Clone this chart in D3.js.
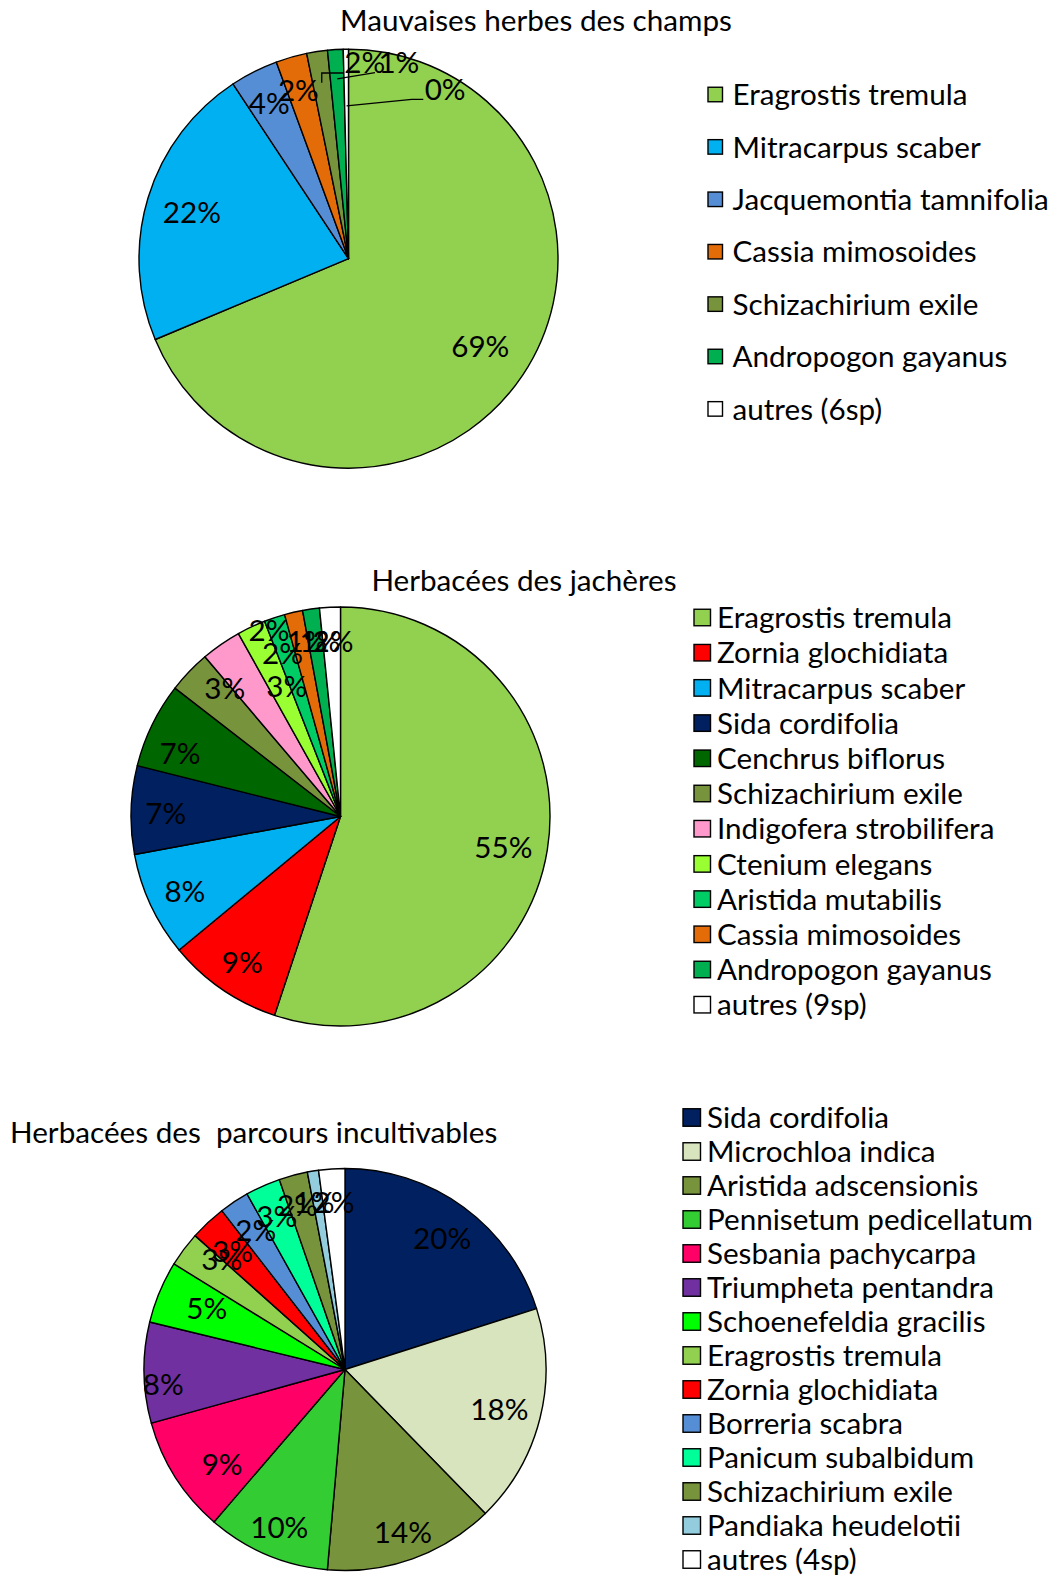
<!DOCTYPE html>
<html>
<head>
<meta charset="utf-8">
<script src="https://cdn.jsdelivr.net/npm/d3@7"></script>
<style>
    body { margin: 0; background: #fff; }
    text { font-family: Lato, "Open Sans", sans-serif; fill: #000; white-space: pre; }
</style>
</head>
<body>
<div id="chart-area"></div>
<script>
// ---- data (percent of species cover) ----
const champsTitle = "Mauvaises herbes des champs";
const champsNames = ["Eragrostis tremula", "Mitracarpus scaber", "Jacquemontia tamnifolia",
    "Cassia mimosoides", "Schizachirium exile", "Andropogon gayanus", "autres (6sp)"];
const champsValues = [68.7, 22.0, 3.7, 2.4, 1.6, 1.2, 0.4];
const champsColors = ["#92D050", "#00B0F0", "#558ED5", "#E36C09", "#77933C", "#00B050", "#FFFFFF"];

const jacheresTitle = "Herbacées des jachères";
const jacheresNames = ["Eragrostis tremula", "Zornia glochidiata", "Mitracarpus scaber", "Sida cordifolia",
    "Cenchrus biflorus", "Schizachirium exile", "Indigofera strobilifera", "Ctenium elegans",
    "Aristida mutabilis", "Cassia mimosoides", "Andropogon gayanus", "autres (9sp)"];
const jacheresValues = [55.1, 8.9, 8.1, 6.8, 6.6, 3.3, 3.1, 2.2, 1.6, 1.4, 1.3, 1.6];
const jacheresColors = ["#92D050", "#FF0000", "#00B0F0", "#002060", "#006600", "#77933C",
    "#FF99CC", "#99FF33", "#00CC66", "#E36C09", "#00B050", "#FFFFFF"];

const parcoursTitle = "Herbacées des  parcours incultivables";
const parcoursNames = ["Sida cordifolia", "Microchloa indica", "Aristida adscensionis", "Pennisetum pedicellatum",
    "Sesbania pachycarpa", "Triumpheta pentandra", "Schoenefeldia gracilis", "Eragrostis tremula",
    "Zornia glochidiata", "Borreria scabra", "Panicum subalbidum", "Schizachirium exile",
    "Pandiaka heudelotii", "autres (4sp)"];
const parcoursValues = [20.1, 17.6, 13.7, 9.9, 9.4, 8.1, 5.0, 2.8, 2.9, 2.4, 2.8, 2.3, 0.9, 2.1];
const parcoursColors = ["#002060", "#D7E4BD", "#77933C", "#33CC33", "#FF0066", "#7030A0", "#00FF00",
    "#92D050", "#FF0000", "#558ED5", "#00FF99", "#77933C", "#93CDDD", "#FFFFFF"];

class PieVis {
    constructor(_svg, _title, _names, _values, _colors, _layout) {
        this.svg = _svg;
        this.title = _title;
        this.data = _names.map((n, i) => ({name: n, value: _values[i], color: _colors[i]}));
        this.layout = _layout;
        this.initVis();
    }

    initVis() {
        let vis = this;
        let L = vis.layout;

        vis.pie = d3.pie().sort(null).value(d => d.value);
        vis.arc = d3.arc().innerRadius(0).outerRadius(L.r);
        vis.pct = d3.format(".0%");
        vis.total = d3.sum(vis.data, d => d.value);

        // title
        vis.svg.append("text")
            .attr("x", L.title[0])
            .attr("y", L.title[1])
            .attr("text-anchor", L.titleAnchor)
            .style("font-size", L.titleSize + "px")
            .text(vis.title);

        vis.g = vis.svg.append("g")
            .attr("transform", "translate(" + L.cx + "," + L.cy + ")");

        vis.arcs = vis.pie(vis.data);

        vis.g.selectAll("path.slice")
            .data(vis.arcs)
            .enter().append("path")
            .attr("class", "slice")
            .attr("d", vis.arc)
            .attr("fill", d => d.data.color)
            .attr("stroke", "#000")
            .attr("stroke-width", 1.4)
            .attr("stroke-linejoin", "round");

        // leader lines for the tiny slices
        let pointAt = (d, f) => {
            let a = (d.startAngle + d.endAngle) / 2;
            return [Math.sin(a) * L.r * f, -Math.cos(a) * L.r * f];
        };
        (L.leaders || []).forEach(ld => {
            let end = pointAt(vis.arcs[ld.i], ld.rf);
            let pts = [ld.start].concat(ld.bend ? [ld.bend] : [[end[0], ld.start[1]]]).concat([end]);
            vis.g.append("path")
                .attr("d", d3.line()(pts))
                .attr("fill", "none")
                .attr("stroke", "#000")
                .attr("stroke-width", 1.3);
        });

        // percentage labels (Excel "best fit" spots)
        vis.g.selectAll("text.lbl")
            .data(vis.arcs)
            .enter().append("text")
            .attr("class", "lbl")
            .attr("x", (d, i) => L.labels[i] ? L.labels[i][0] : pointAt(d, 0.8)[0])
            .attr("y", (d, i) => L.labels[i] ? L.labels[i][1] : pointAt(d, 0.8)[1])
            .attr("dy", "0.36em")
            .attr("text-anchor", "middle")
            .style("font-size", L.fontSize + "px")
            .text(d => vis.pct(d.data.value / vis.total));

        // legend
        let leg = vis.svg.append("g").selectAll("g")
            .data(vis.data)
            .enter().append("g")
            .attr("transform", (d, i) => "translate(0," + (L.legY0 + i * L.legStep) + ")");

        leg.append("rect")
            .attr("x", L.legX)
            .attr("y", -L.legBox / 2)
            .attr("width", L.legBox)
            .attr("height", L.legBox)
            .attr("fill", d => d.color)
            .attr("stroke", "#000")
            .attr("stroke-width", 1.4);

        leg.append("text")
            .attr("x", L.legTextX)
            .attr("dy", "0.36em")
            .style("font-size", L.fontSize + "px")
            .text(d => d.name);
    }
}

let svg = d3.select("#chart-area").append("svg")
    .attr("width", 1057)
    .attr("height", 1575);

// fit the fallback font to the widths in the original (Calibri)
function fitSize(str, target) {
    let t = svg.append("text").style("font-size", "100px").text(str);
    let w = t.node().getComputedTextLength();
    t.remove();
    return 100 * target / w;
}
const titleSize = fitSize("Mauvaises herbes des champs", 392);
const bodySize = fitSize("Eragrostis tremula", 235);

new PieVis(svg, champsTitle, champsNames, champsValues, champsColors, {
    cx: 348.5, cy: 258.7, r: 209.5,
    title: [536, 31], titleAnchor: "middle", titleSize: titleSize, fontSize: bodySize,
    legX: 708, legBox: 14.5, legY0: 94.5, legStep: 52.4, legTextX: 732.5,
    labels: [[131.8, 88], [-156.6, -46.7], [-79.2, -155.2], [-50.1, -168.3],
        [16.2, -196.4], [50.4, -196.4], [96.6, -169.3]],
    leaders: [
        {i: 4, start: [-5.5, -185.7], rf: 0.85},
        {i: 5, start: [26.5, -186], bend: [26.5, -186], rf: 0.86},
        {i: 6, start: [74.8, -159.4], bend: [63.2, -159.4], rf: 0.73}
    ]
});

new PieVis(svg, jacheresTitle, jacheresNames, jacheresValues, jacheresColors, {
    cx: 340.5, cy: 816.5, r: 209.5,
    title: [524, 590.5], titleAnchor: "middle", titleSize: titleSize, fontSize: bodySize,
    legX: 694, legBox: 16.5, legY0: 617.5, legStep: 35.2, legTextX: 717,
    labels: [[162.9, 30.5], [-98.3, 146.1], [-155.6, 74.8], [-174.7, -3.2], [-160.5, -63.2],
        [-115.8, -128.2], [-53.8, -129.8], [-71.5, -186.5], [-58, -163.5],
        [-33.5, -175], [-20.5, -175], [-7.5, -175]]
});

new PieVis(svg, parcoursTitle, parcoursNames, parcoursValues, parcoursColors, {
    cx: 345, cy: 1369.5, r: 201,
    title: [10, 1143], titleAnchor: "start", titleSize: titleSize, fontSize: bodySize,
    legX: 683, legBox: 17.5, legY0: 1117.5, legStep: 34.0, legTextX: 707,
    labels: [[97.1, -131.6], [154.4, 40.2], [57.9, 162.8], [-65.7, 157.8], [-122.9, 94.4],
        [-181.7, 14.5], [-138.3, -61.5], [-123.3, -110.5], [-112.5, -118.5], [-89.2, -139.5],
        [-68.3, -153.5], [-47.5, -164.5], [-31, -167.5], [-11, -167.5]]
});
</script>
</body>
</html>
